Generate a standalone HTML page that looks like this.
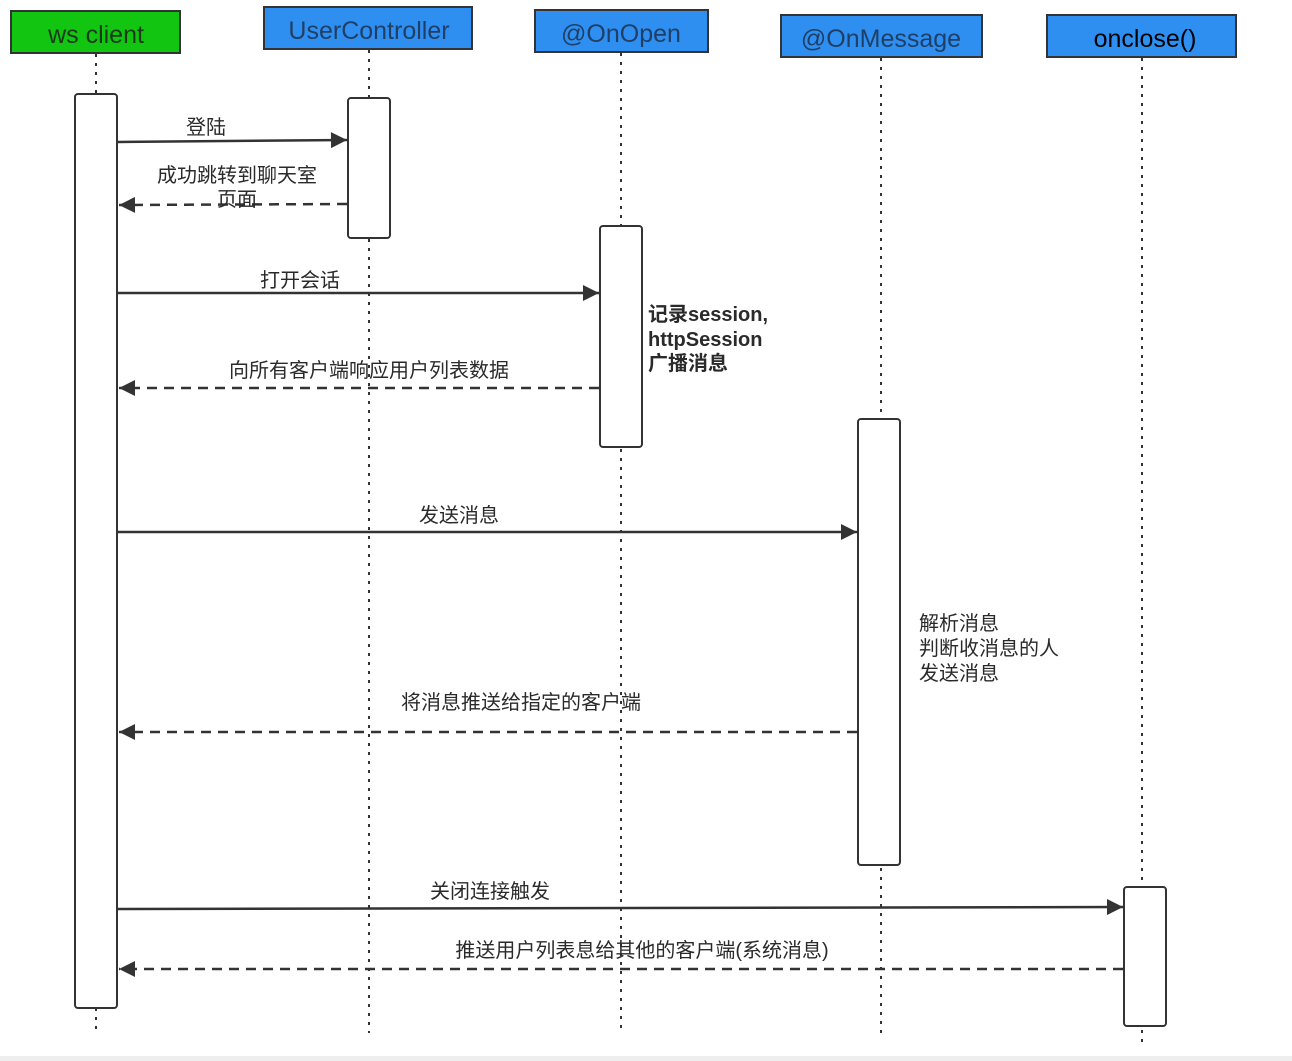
<!DOCTYPE html>
<html><head><meta charset="utf-8"><style>
html,body{margin:0;padding:0;background:#fff;}
svg{display:block;}
text{font-family:"Liberation Sans","Noto Sans CJK SC",sans-serif;}
.lbl{font-size:20px;fill:#2a2a2a;text-anchor:middle;}
.note{font-size:20px;fill:#2a2a2a;}
.hdr{font-size:25px;text-anchor:middle;}
</style></head><body>
<svg width="1292" height="1061" viewBox="0 0 1292 1061" xmlns="http://www.w3.org/2000/svg">
<defs>
<marker id="a" viewBox="0 0 10 10" refX="10" refY="5" markerWidth="20" markerHeight="16" markerUnits="userSpaceOnUse" orient="auto"><path d="M0,0 L10,5 L0,10 z" fill="#333"/></marker>
</defs>
<rect x="0" y="1056" width="1292" height="5" fill="#eeeeee"/>
<g stroke="#333" stroke-width="2" stroke-dasharray="3,6">
<line x1="96" y1="54" x2="96" y2="1035"/>
<line x1="369" y1="50" x2="369" y2="1033"/>
<line x1="621" y1="53" x2="621" y2="1033"/>
<line x1="881" y1="58" x2="881" y2="1033"/>
<line x1="1142" y1="58" x2="1142" y2="1043"/>
</g>
<rect x="11" y="11" width="169" height="42" fill="#11c511" stroke="#333" stroke-width="2"/>
<text x="96" y="43" class="hdr" fill="#1a3a1a">ws client</text>
<rect x="264" y="7" width="208" height="42" fill="#2f8ff0" stroke="#333" stroke-width="2"/>
<text x="369" y="39" class="hdr" fill="#1f3f66">UserController</text>
<rect x="535" y="10" width="173" height="42" fill="#2f8ff0" stroke="#333" stroke-width="2"/>
<text x="621" y="42" class="hdr" fill="#1f3f66">@OnOpen</text>
<rect x="781" y="15" width="201" height="42" fill="#2f8ff0" stroke="#333" stroke-width="2"/>
<text x="881" y="47" class="hdr" fill="#1f3f66">@OnMessage</text>
<rect x="1047" y="15" width="189" height="42" fill="#2f8ff0" stroke="#333" stroke-width="2"/>
<text x="1145" y="47" class="hdr" fill="#000">onclose()</text>
<g fill="#fff" stroke="#333" stroke-width="2">
<rect x="75" y="94" width="42" height="914" rx="3"/>
<rect x="348" y="98" width="42" height="140" rx="3"/>
<rect x="600" y="226" width="42" height="221" rx="3"/>
<rect x="858" y="419" width="42" height="446" rx="3"/>
<rect x="1124" y="887" width="42" height="139" rx="3"/>
</g>
<g stroke="#333" stroke-width="2.5" fill="none">
<line x1="118" y1="142" x2="347" y2="140" marker-end="url(#a)"/>
<line x1="347" y1="204" x2="119" y2="205" stroke-dasharray="10,7" marker-end="url(#a)"/>
<line x1="118" y1="293" x2="599" y2="293" marker-end="url(#a)"/>
<line x1="599" y1="388" x2="119" y2="388" stroke-dasharray="10,7" marker-end="url(#a)"/>
<line x1="118" y1="532" x2="857" y2="532" marker-end="url(#a)"/>
<line x1="857" y1="732" x2="119" y2="732" stroke-dasharray="10,7" marker-end="url(#a)"/>
<line x1="118" y1="909" x2="1123" y2="907" marker-end="url(#a)"/>
<line x1="1123" y1="969" x2="119" y2="969" stroke-dasharray="10,7" marker-end="url(#a)"/>
</g>
<text x="206" y="134" class="lbl">登陆</text>
<text x="237" y="182" class="lbl">成功跳转到聊天室</text>
<text x="237" y="206" class="lbl">页面</text>
<text x="300" y="287" class="lbl">打开会话</text>
<text x="369" y="377" class="lbl">向所有客户端响应用户列表数据</text>
<text x="459" y="522" class="lbl">发送消息</text>
<text x="521" y="709" class="lbl">将消息推送给指定的客户端</text>
<text x="490" y="898" class="lbl">关闭连接触发</text>
<text x="642" y="957" class="lbl">推送用户列表息给其他的客户端(系统消息)</text>
<g class="note" font-weight="bold">
<text x="648" y="321">记录session,</text>
<text x="648" y="346">httpSession</text>
<text x="648" y="370">广播消息</text>
</g>
<g class="note">
<text x="919" y="630">解析消息</text>
<text x="919" y="655">判断收消息的人</text>
<text x="919" y="680">发送消息</text>
</g>
</svg>
</body></html>
